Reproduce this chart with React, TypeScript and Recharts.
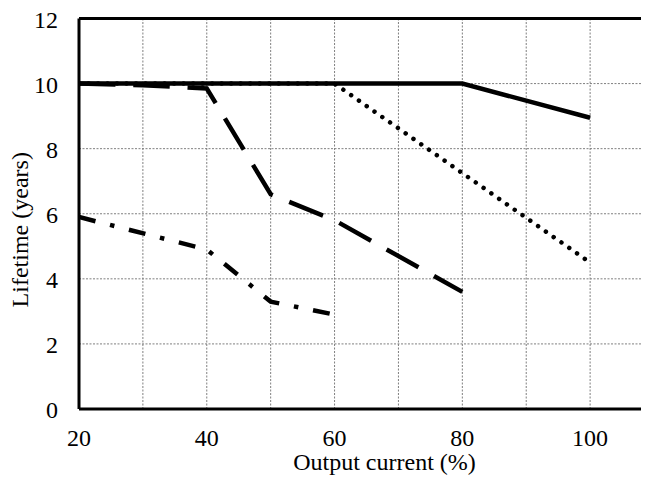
import React from 'react';
import { LineChart, Line, XAxis, YAxis, ReferenceLine } from 'recharts';

const xTicks = [20, 40, 60, 80, 100];
const yTicks = [0, 2, 4, 6, 8, 10, 12];
const xGrid = [30, 40, 50, 60, 70, 80, 90, 100, 110];
const yGrid = [2, 4, 6, 8, 10];

const solidX = [20, 80, 100];
const solidY = [10, 10, 8.95];

const dottedX = [20, 60, 100];
const dottedY = [10, 10, 4.5];

const dashedX = [20, 30, 40, 50, 60, 80];
const dashedY = [10, 9.95, 9.85, 6.6, 5.8, 3.6];

const dashDotX = [20, 40, 50, 60];
const dashDotY = [5.9, 4.9, 3.3, 2.9];

const toRows = (xs: number[], ys: number[]) => xs.map((x, i) => ({ x, y: ys[i] }));

const solidData = toRows(solidX, solidY);
const dottedData = toRows(dottedX, dottedY);
const dashedData = toRows(dashedX, dashedY);
const dashDotData = toRows(dashDotX, dashDotY);

const FONT = 'Liberation Serif, Times New Roman, serif';
const FS = 24;
const textStyle = { fontFamily: FONT, fontSize: FS, fill: '#000' } as React.CSSProperties;

const XTick = (props: any) => {
  const { x, y, payload } = props;
  return (
    <text x={x} y={y + 37} textAnchor="middle" style={textStyle}>
      {payload.value}
    </text>
  );
};

const YTick = (props: any) => {
  const { x, y, payload } = props;
  return (
    <text x={x - 21} y={y + 9} textAnchor="end" style={textStyle}>
      {payload.value}
    </text>
  );
};

const YLabel = (props: any) => {
  const vb = props.viewBox || {};
  const cx = (vb.x || 0) + 20;
  const cy = (vb.y || 0) + (vb.height || 0) / 2 + 16;
  return (
    <text
      x={cx}
      y={cy}
      transform={`rotate(-90 ${cx} ${cy})`}
      textAnchor="middle"
      style={textStyle}
    >
      Lifetime (years)
    </text>
  );
};

const XLabel = (props: any) => {
  const vb = props.viewBox || {};
  const cx = (vb.x || 0) + (vb.width || 0) / 2 + 18;
  const cy = (vb.y || 0) + 61;
  return (
    <text x={cx} y={cy} textAnchor="middle" style={textStyle}>
      Output current (%)
    </text>
  );
};

export default function App() {
  return (
    <div style={{ width: 641, height: 469, overflow: 'hidden' }}>
      <LineChart width={646} height={469} margin={{ top: 10.5, right: 0, bottom: 0, left: 0 }}>
        {xGrid.map((v) => (
          <ReferenceLine key={'gx' + v} x={v} stroke="#7f7f7f" strokeWidth={1} strokeDasharray="2 1.5" ifOverflow="visible" />
        ))}
        {yGrid.map((v) => (
          <ReferenceLine key={'gy' + v} y={v} stroke="#7f7f7f" strokeWidth={1} strokeDasharray="2 1.5" />
        ))}
        <ReferenceLine y={12} stroke="#000" strokeWidth={3} />
        <XAxis
          type="number"
          dataKey="x"
          domain={[20, 110]}
          ticks={xTicks}
          allowDataOverflow
          tickLine={false}
          tickSize={0}
          tickMargin={0}
          height={68}
          axisLine={{ stroke: '#000', strokeWidth: 3 }}
          tick={<XTick />}
          label={<XLabel />}
        />
        <YAxis
          type="number"
          dataKey="y"
          domain={[0, 12]}
          ticks={yTicks}
          width={71}
          tickLine={false}
          tickSize={0}
          tickMargin={0}
          axisLine={{ stroke: '#000', strokeWidth: 3 }}
          tick={<YTick />}
          label={<YLabel />}
        />
        <Line
          data={dottedData}
          dataKey="y"
          stroke="#000"
          strokeWidth={4.5}
          strokeDasharray="0.01 9.5"
          strokeLinecap="round"
          dot={false}
          activeDot={false}
          isAnimationActive={false}
        />
        <Line
          data={dashDotData}
          dataKey="y"
          stroke="#000"
          strokeWidth={4.5}
          strokeDasharray="17 15 4.5 15"
          dot={false}
          activeDot={false}
          isAnimationActive={false}
        />
        <Line
          data={dashedData}
          dataKey="y"
          stroke="#000"
          strokeWidth={4.5}
          strokeDasharray="36.5 17.8"
          dot={false}
          activeDot={false}
          isAnimationActive={false}
        />
        <Line
          data={solidData}
          dataKey="y"
          stroke="#000"
          strokeWidth={4.5}
          dot={false}
          activeDot={false}
          isAnimationActive={false}
        />
      </LineChart>
    </div>
  );
}
